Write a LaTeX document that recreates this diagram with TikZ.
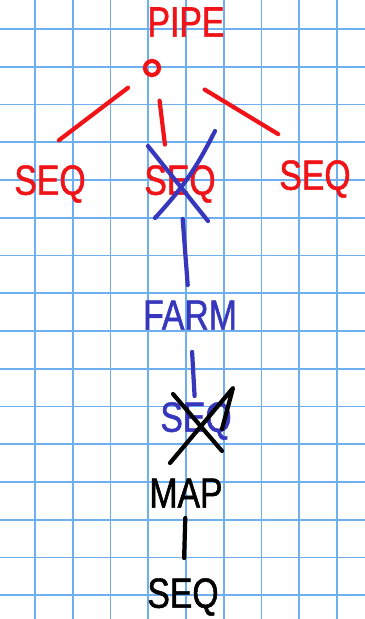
\documentclass[tikz,border=0pt]{standalone}
\usepackage{fontspec}
\setmainfont{Liberation Sans}
\newfontfamily\handfont[FakeStretch=0.8,FakeBold=1.2]{Liberation Sans}
\usetikzlibrary{positioning}

\definecolor{gridblue}{RGB}{110,175,240}
\definecolor{penred}{RGB}{240,20,25}
\definecolor{penblue}{RGB}{55,55,190}

\begin{document}
\begin{tikzpicture}[
  x={(0.02cm,0)}, y={(0,-0.02cm)},
  gridline/.style={draw=gridblue, line width=1.1pt},
  pen/.style={line width=2.4pt, line cap=round, line join=round},
  redpen/.style={pen, draw=penred},
  bluepen/.style={pen, draw=penblue},
  blackpen/.style={pen, draw=black},
  word/.style={font=\handfont\fontsize{24}{26}\selectfont, inner sep=2pt}
]
  % paper
  \fill[white] (0,0) rectangle (365,619);
  \useasboundingbox (0,0) rectangle (365,619);
  \foreach \i in {0,...,8}
    \draw[gridline] ({35+37.75*\i},0) -- ({35+37.75*\i},619);
  \foreach \j in {0,...,15}
    \draw[gridline] (0,{29+37.75*\j}) -- (365,{29+37.75*\j});

  % red part
  \node[word, text=penred] (pipe) at (186,22) {PIPE};
  \node[circle, draw=penred, line width=2.4pt, minimum size=0.28cm,
    inner sep=0pt] (root) at (152,68) {};
  \node[word, text=penred] (seqL) at (50,184) {SEQ};
  \node[word, text=penred] (seqM) at (180,184) {SEQ};
  \node[word, text=penred] (seqR) at (315,179) {SEQ};

  \draw[redpen, shorten <=0.44cm, shorten >=0.7cm]
    (root.south west) -- (seqL.130);
  \draw[redpen, shorten <=0.5cm, shorten >=0.34cm]
    (root.-60) -- (seqM.120);
  \draw[redpen, shorten <=1.08cm, shorten >=0.86cm]
    (root.north east) -- (seqR.north);

  % blue part
  \draw[bluepen] ([shift={(-32,-38)}]seqM.center)
    -- ([shift={(28,37)}]seqM.center);
  \draw[bluepen] ([shift={(35,-53)}]seqM.center)
    to[bend left=8] ([shift={(-25,34)}]seqM.center);

  \node[word, text=penblue] (farm) at (190,315) {FARM};
  \node[word, text=penblue] (seqB) at (196,421) {SEQ};

  \draw[bluepen, shorten <=0.7cm, shorten >=0.6cm]
    (seqM.center) -- (farm.center);
  \draw[bluepen, shorten <=0.74cm, shorten >=0.5cm]
    (farm.center) -- (seqB.center);

  % black part
  \draw[blackpen] ([shift={(-23,-27)}]seqB.center)
    -- ([shift={(26,30)}]seqB.center);
  \draw[blackpen] ([shift={(-26,42)}]seqB.center)
    -- ([shift={(37,-33)}]seqB.center)
    -- ([shift={(26,8)}]seqB.center);

  \node[word] (map) at (186,493) {MAP};
  \node[word] (seqK) at (183,597) {SEQ};

  \draw[blackpen, shorten <=0.5cm, shorten >=0.78cm]
    (map.center) -- (seqK.center);
\end{tikzpicture}
\end{document}
